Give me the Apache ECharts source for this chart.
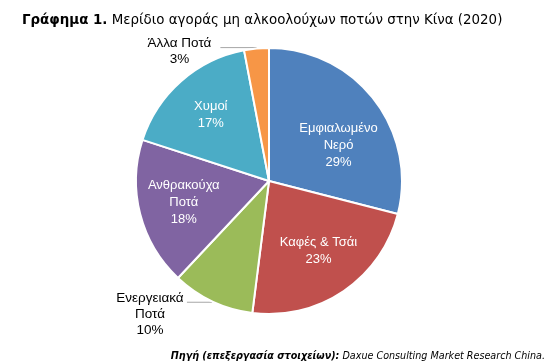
<!DOCTYPE html>
<html><head><meta charset="utf-8">
<script src="https://cdn.jsdelivr.net/npm/echarts@6/dist/echarts.min.js"></script>
<style>html,body{margin:0;padding:0;background:#fff}#c{width:554px;height:363px}</style>
</head><body><div id="c"></div>
<script>
var categories = ["Εμφιαλωμένο\nΝερό", "Καφές & Τσάι", "Ενεργειακά\nΠοτά", "Ανθρακούχα\nΠοτά", "Χυμοί", "Άλλα Ποτά"];
var values = [29, 23, 10, 18, 17, 3];
var colors = ["#4F81BD", "#C0504D", "#9BBB59", "#8064A2", "#4BACC6", "#F79646"];
var insideLabel = [true, true, false, true, true, false];
// label nudges (styling only)
var labelDy = [18, -3, 12, 0, 0, 4];
var leaderLen = [0, 0, 25, 0, 0, 36];
var outBlockW = [0, 0, 70, 0, 0, 78];

var chart = echarts.init(document.getElementById('c'), null, {renderer: 'canvas'});
var base = values.map(function (v, i) {
  return {
    name: categories[i], value: v,
    itemStyle: {color: colors[i]},
    label: {show: !insideLabel[i], rich: {t: {width: outBlockW[i], align: 'center', fontFamily: 'Liberation Sans', fontSize: 13.5, lineHeight: 16, color: '#000'}}},
    labelLine: {show: !insideLabel[i], length2: leaderLen[i]}
  };
});
var overlay = values.map(function (v, i) {
  return {name: categories[i], value: v, label: {show: insideLabel[i]}};
});
chart.setOption({
  animation: false,
  backgroundColor: '#fff',
  title: [{
    text: '{b|Γράφημα 1.} Μερίδιο αγοράς μη αλκοολούχων ποτών στην Κίνα (2020)',
    left: 17, top: 9,
    textStyle: {
      fontFamily: 'DejaVu Sans', fontSize: 13.4, fontWeight: 'normal', color: '#000',
      rich: {b: {fontFamily: 'DejaVu Sans', fontSize: 13.4, fontWeight: 'bold', color: '#000'}}
    }
  }, {
    text: '{b|Πηγή (επεξεργασία στοιχείων):} Daxue Consulting Market Research China.',
    right: 4, top: 346,
    textStyle: {
      fontFamily: 'DejaVu Sans', fontSize: 9.6, fontStyle: 'italic', fontWeight: 'normal', color: '#000',
      rich: {b: {fontFamily: 'DejaVu Sans', fontSize: 9.6, fontStyle: 'italic', fontWeight: 'bold', color: '#000'}}
    }
  }],
  series: [{
    type: 'pie',
    center: [269, 181],
    radius: [0, 133],
    startAngle: 90,
    clockwise: true,
    silent: true,
    data: base,
    itemStyle: {borderColor: '#fff', borderWidth: 2},
    label: {
      position: 'outside',
      formatter: function (p) {
        return p.name.split('\n').concat([p.value + '%']).map(function (s) { return '{t|' + s + '}'; }).join('\n');
      },
      fontFamily: 'Liberation Sans', fontSize: 13.5, lineHeight: 16, color: '#000',
      alignTo: 'none', distanceToLabelLine: 2
    },
    labelLine: {length: 1, lineStyle: {color: '#a6a6a6', width: 1}},
    labelLayout: function (p) { return {dy: labelDy[p.dataIndex]}; }
  }, {
    type: 'pie',
    center: [269, 181],
    radius: [0, 170],
    startAngle: 90,
    clockwise: true,
    silent: true,
    data: overlay,
    itemStyle: {color: 'rgba(0,0,0,0)'},
    labelLine: {show: false},
    label: {
      position: 'inside',
      formatter: '{b}\n{c}%',
      fontFamily: 'Liberation Sans', fontSize: 13, lineHeight: 17, color: '#fff'
    },
    labelLayout: function (p) { return {dy: labelDy[p.dataIndex]}; }
  }]
});
</script></body></html>
